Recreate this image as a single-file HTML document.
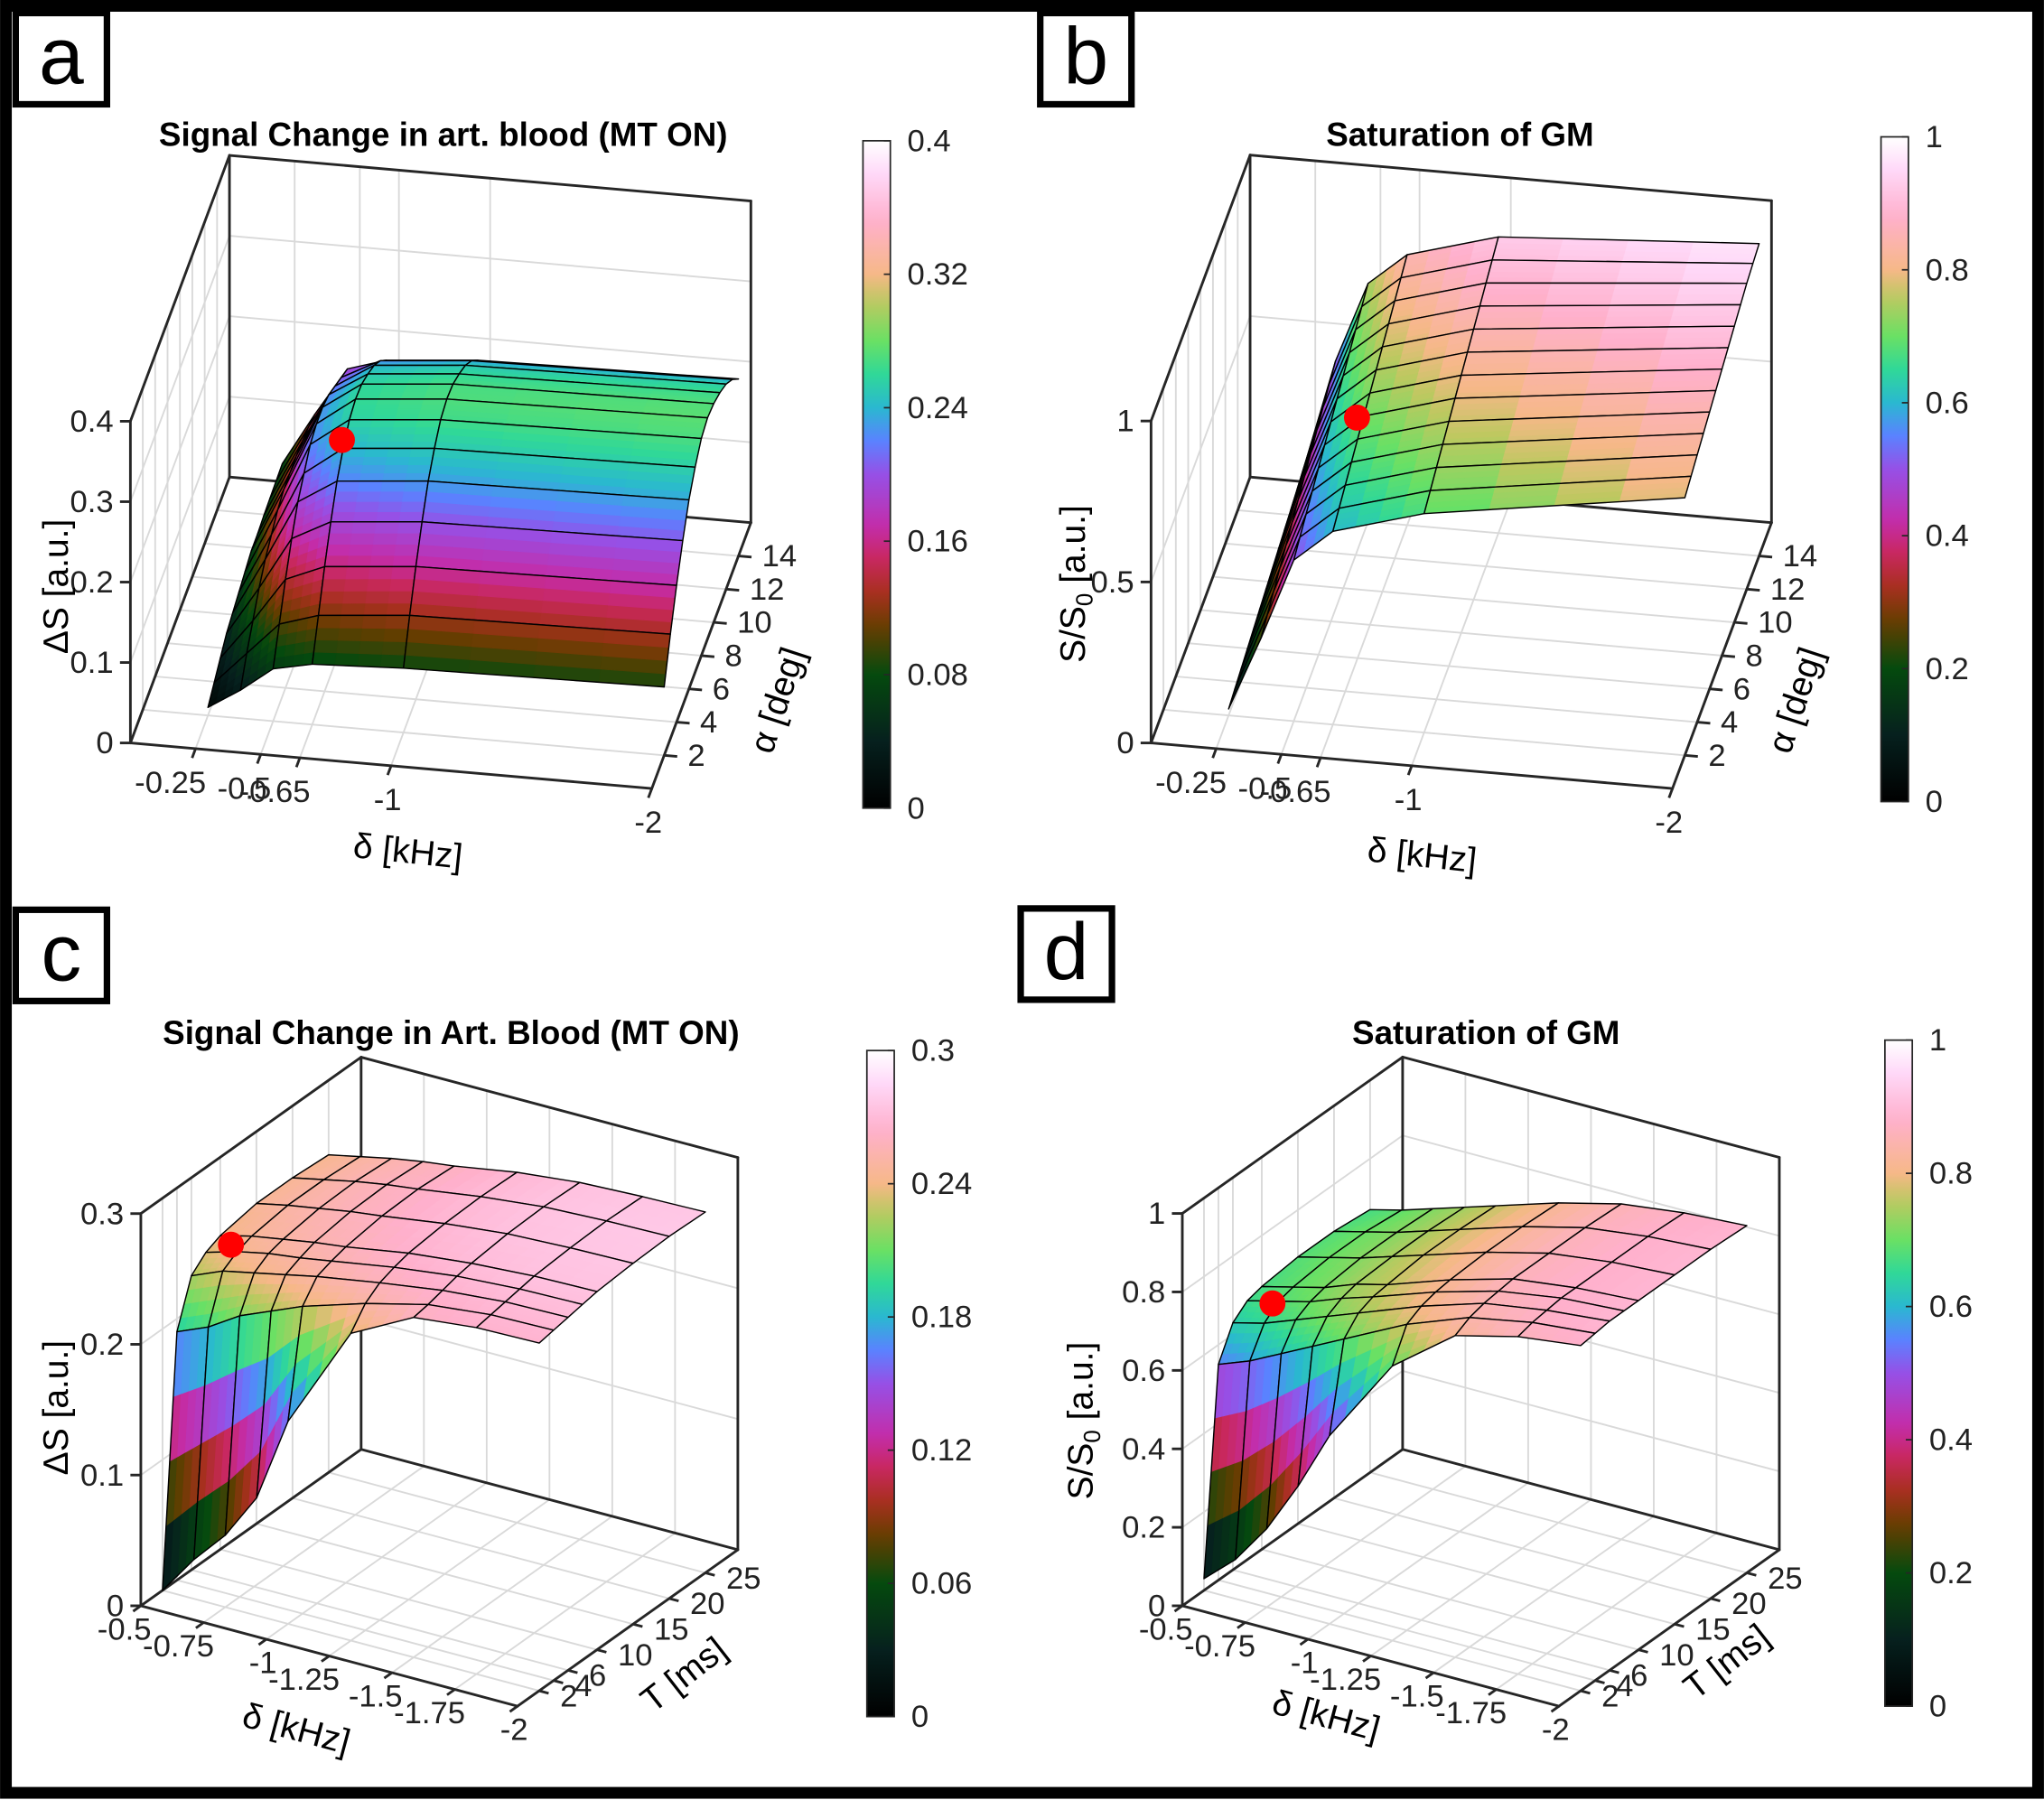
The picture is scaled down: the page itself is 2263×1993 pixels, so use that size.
<!DOCTYPE html>
<html><head><meta charset="utf-8"><title>MT surfaces</title>
<style>
html,body{margin:0;padding:0;background:#fff;}
svg{display:block;font-family:"Liberation Sans",Arial,sans-serif;}
.tk{font-size:24px;fill:#222;}
.ttl{font-size:25.5px;font-weight:bold;fill:#000;}
.axl{font-size:27px;fill:#000;}
.let{font-size:62px;fill:#000;}
</style></head>
<body>
<svg id="fig" width="2263" height="1993" viewBox="0 0 1568 1381" xmlns="http://www.w3.org/2000/svg">
<defs id="defs"></defs>
<rect x="0" y="0" width="1568" height="1381" fill="#fff"/>
<g id="panels"></g>

<g><rect x="12" y="10" width="70" height="70" fill="#fff" stroke="#000" stroke-width="5"/><text class="let" x="47" y="64" text-anchor="middle">a</text></g>
<g><rect x="798" y="10" width="70" height="70" fill="#fff" stroke="#000" stroke-width="5"/><text class="let" x="833" y="64" text-anchor="middle">b</text></g>
<g><rect x="12" y="698" width="70" height="70" fill="#fff" stroke="#000" stroke-width="5"/><text class="let" x="47" y="752" text-anchor="middle">c</text></g>
<g><rect x="783" y="697" width="70" height="70" fill="#fff" stroke="#000" stroke-width="5"/><text class="let" x="818" y="751" text-anchor="middle">d</text></g>

<text class="ttl" x="340" y="112" text-anchor="middle">Signal Change in art. blood (MT ON)</text>
<text class="ttl" x="1120" y="112" text-anchor="middle">Saturation of GM</text>
<text class="ttl" x="346" y="801" text-anchor="middle">Signal Change in Art. Blood (MT ON)</text>
<text class="ttl" x="1140" y="801" text-anchor="middle">Saturation of GM</text>

<text class="axl" transform="translate(52,450) rotate(-90)" text-anchor="middle">ΔS [a.u.]</text>
<text class="axl" transform="translate(312,662) rotate(6)" text-anchor="middle">δ [kHz]</text>
<text class="axl" transform="translate(605,540) rotate(-72)" text-anchor="middle">α [deg]</text>

<text class="axl" transform="translate(832,448) rotate(-90)" text-anchor="middle">S/S<tspan font-size="18" dy="6">0</tspan><tspan dy="-6"> [a.u.]</tspan></text>
<text class="axl" transform="translate(1090,665) rotate(6)" text-anchor="middle">δ [kHz]</text>
<text class="axl" transform="translate(1386,540) rotate(-72)" text-anchor="middle">α [deg]</text>

<text class="axl" transform="translate(52,1080) rotate(-90)" text-anchor="middle">ΔS [a.u.]</text>
<text class="axl" transform="translate(225,1335) rotate(15)" text-anchor="middle">δ [kHz]</text>
<text class="axl" transform="translate(530,1292) rotate(-38)" text-anchor="middle">T [ms]</text>

<text class="axl" transform="translate(838,1090) rotate(-90)" text-anchor="middle">S/S<tspan font-size="18" dy="6">0</tspan><tspan dy="-6"> [a.u.]</tspan></text>
<text class="axl" transform="translate(1015,1325) rotate(15)" text-anchor="middle">δ [kHz]</text>
<text class="axl" transform="translate(1330,1282) rotate(-38)" text-anchor="middle">T [ms]</text>

<rect x="4.5" y="4.5" width="1559" height="1371" fill="none" stroke="#000" stroke-width="9"/>
</svg>
<script>
// ---------- Panel a data ----------
const aDelta = [-0.25, -0.375, -0.5, -0.65, -1, -2];
const aAlpha = [2, 3, 4, 5, 6, 7, 8, 9, 10, 11, 12, 13, 14];
const aZ = [
  [0.010, 0.035, 0.065, 0.075, 0.080, 0.085],
  [0.020, 0.060, 0.100, 0.115, 0.125, 0.130],
  [0.030, 0.080, 0.135, 0.155, 0.165, 0.170],
  [0.040, 0.100, 0.165, 0.190, 0.200, 0.205],
  [0.045, 0.115, 0.190, 0.220, 0.230, 0.235],
  [0.050, 0.125, 0.205, 0.240, 0.250, 0.255],
  [0.055, 0.135, 0.220, 0.255, 0.265, 0.270],
  [0.060, 0.140, 0.225, 0.260, 0.270, 0.275],
  [0.060, 0.140, 0.225, 0.258, 0.268, 0.272],
  [0.062, 0.140, 0.220, 0.250, 0.260, 0.265],
  [0.063, 0.138, 0.210, 0.240, 0.250, 0.255],
  [0.064, 0.135, 0.200, 0.225, 0.235, 0.240],
  [0.065, 0.130, 0.190, 0.205, 0.215, 0.220]
];
const aDot = [-0.55, 11, 0.165];
const aDeltaTicks = [-0.25, -0.5, -0.65, -1, -2];
const aDeltaTickLabels = ["-0.25", "-0.5", "-0.65", "-1", "-2"];
const aAlphaTicks = [2, 4, 6, 8, 10, 12, 14];
const aZTicks = [0, 0.1, 0.2, 0.3, 0.4];
const aZTickLabels = ["0", "0.1", "0.2", "0.3", "0.4"];
const aCbTicks = [0, 0.08, 0.16, 0.24, 0.32, 0.4];
const aCbTickLabels = ["0", "0.08", "0.16", "0.24", "0.32", "0.4"];

// ---------- Panel b data ----------
const bDelta = [-0.25, -0.375, -0.5, -0.65, -1, -2];
const bAlpha = [2, 3, 4, 5, 6, 7, 8, 9, 10, 11, 12, 13, 14];
const bZ = [
  [0.02, 0.25, 0.50, 0.60, 0.68, 0.800],
  [0.03, 0.27, 0.52, 0.62, 0.70, 0.815],
  [0.04, 0.29, 0.54, 0.64, 0.72, 0.830],
  [0.05, 0.31, 0.56, 0.66, 0.74, 0.845],
  [0.06, 0.33, 0.58, 0.68, 0.76, 0.860],
  [0.07, 0.35, 0.60, 0.70, 0.78, 0.875],
  [0.08, 0.37, 0.62, 0.72, 0.80, 0.890],
  [0.09, 0.39, 0.64, 0.74, 0.82, 0.905],
  [0.10, 0.41, 0.66, 0.76, 0.84, 0.920],
  [0.11, 0.43, 0.68, 0.78, 0.86, 0.935],
  [0.12, 0.45, 0.70, 0.80, 0.88, 0.950],
  [0.13, 0.47, 0.72, 0.82, 0.90, 0.960],
  [0.14, 0.49, 0.74, 0.84, 0.92, 0.970]
];
const bDot = [-0.6, 8, 0.64];
const bDeltaTicks = [-0.25, -0.5, -0.65, -1, -2];
const bDeltaTickLabels = ["-0.25", "-0.5", "-0.65", "-1", "-2"];
const bAlphaTicks = [2, 4, 6, 8, 10, 12, 14];
const bZTicks = [0, 0.5, 1];
const bZTickLabels = ["0", "0.5", "1"];
const bCbTicks = [0, 0.2, 0.4, 0.6, 0.8, 1];
const bCbTickLabels = ["0", "0.2", "0.4", "0.6", "0.8", "1"];

// ---------- Panel c data ----------
const cDelta = [-0.5, -0.625, -0.75, -0.875, -1, -1.25, -1.5, -1.75, -2];
const cT = [2, 4, 6, 8, 10, 15, 20, 25];
const cZ = [
  [0.000, 0.030, 0.055, 0.090, 0.155, 0.235, 0.260, 0.265, 0.266],
  [0.190, 0.200, 0.215, 0.225, 0.235, 0.250, 0.262, 0.267, 0.268],
  [0.225, 0.235, 0.240, 0.245, 0.250, 0.258, 0.265, 0.269, 0.270],
  [0.235, 0.242, 0.247, 0.250, 0.254, 0.262, 0.268, 0.271, 0.272],
  [0.240, 0.246, 0.250, 0.254, 0.257, 0.265, 0.270, 0.273, 0.274],
  [0.245, 0.250, 0.254, 0.258, 0.261, 0.268, 0.273, 0.275, 0.276],
  [0.245, 0.250, 0.255, 0.259, 0.262, 0.269, 0.274, 0.276, 0.277],
  [0.243, 0.248, 0.253, 0.257, 0.260, 0.268, 0.273, 0.275, 0.276]
];
const cDot = [-0.6, 8, 0.246];
const cDeltaTicks = [-0.5, -0.75, -1, -1.25, -1.5, -1.75, -2];
const cDeltaTickLabels = ["-0.5", "-0.75", "-1", "-1.25", "-1.5", "-1.75", "-2"];
const cTTicks = [2, 4, 6, 10, 15, 20, 25];
const cZTicks = [0, 0.1, 0.2, 0.3];
const cZTickLabels = ["0", "0.1", "0.2", "0.3"];
const cCbTicks = [0, 0.06, 0.12, 0.18, 0.24, 0.3];
const cCbTickLabels = ["0", "0.06", "0.12", "0.18", "0.24", "0.3"];

// ---------- Panel d data ----------
const dDelta = [-0.5, -0.625, -0.75, -0.875, -1, -1.25, -1.5, -1.75, -2];
const dT = [2, 4, 6, 8, 10, 15, 20, 25];
const dZ = [
  [0.03, 0.10, 0.20, 0.33, 0.48, 0.70, 0.82, 0.86, 0.880],
  [0.55, 0.58, 0.62, 0.66, 0.70, 0.78, 0.84, 0.87, 0.885],
  [0.63, 0.65, 0.68, 0.71, 0.74, 0.80, 0.85, 0.875, 0.890],
  [0.66, 0.68, 0.70, 0.73, 0.755, 0.81, 0.855, 0.88, 0.890],
  [0.67, 0.69, 0.71, 0.74, 0.76, 0.815, 0.86, 0.88, 0.890],
  [0.68, 0.70, 0.72, 0.745, 0.77, 0.82, 0.86, 0.88, 0.890],
  [0.68, 0.70, 0.72, 0.745, 0.77, 0.82, 0.86, 0.88, 0.890],
  [0.67, 0.69, 0.715, 0.74, 0.765, 0.815, 0.855, 0.875, 0.885]
];
const dDot = [-0.6, 8, 0.67];
const dDeltaTicks = [-0.5, -0.75, -1, -1.25, -1.5, -1.75, -2];
const dDeltaTickLabels = ["-0.5", "-0.75", "-1", "-1.25", "-1.5", "-1.75", "-2"];
const dTTicks = [2, 4, 6, 10, 15, 20, 25];
const dZTicks = [0, 0.2, 0.4, 0.6, 0.8, 1];
const dZTickLabels = ["0", "0.2", "0.4", "0.6", "0.8", "1"];
const dCbTicks = [0, 0.2, 0.4, 0.6, 0.8, 1];
const dCbTickLabels = ["0", "0.2", "0.4", "0.6", "0.8", "1"];

// ---------- colormap ----------
const CM = [
  [0.00, [0, 0, 0]], [0.10, [6, 32, 30]], [0.20, [5, 74, 14]], [0.27, [100, 62, 0]],
  [0.32, [165, 48, 28]], [0.37, [200, 40, 90]], [0.42, [196, 44, 168]], [0.50, [150, 80, 230]],
  [0.55, [90, 130, 255]], [0.60, [42, 184, 208]], [0.65, [48, 216, 152]], [0.70, [106, 224, 100]],
  [0.76, [190, 200, 96]], [0.80, [246, 184, 136]], [0.88, [255, 176, 204]], [0.95, [255, 216, 248]],
  [1.00, [255, 255, 255]]
];
function cmap(t) {
  t = Math.max(0, Math.min(1, t));
  for (let i = 1; i < CM.length; i++) {
    if (t <= CM[i][0]) {
      const a = CM[i - 1], b = CM[i];
      const f = (t - a[0]) / (b[0] - a[0]);
      const c = a[1].map((v, k) => Math.round(v + (b[1][k] - v) * f));
      return "rgb(" + c.join(",") + ")";
    }
  }
  return "rgb(255,255,255)";
}

const NS = "http://www.w3.org/2000/svg";
function mk(tag, attrs, parent) {
  const e = document.createElementNS(NS, tag);
  for (const k in attrs) e.setAttribute(k, attrs[k]);
  parent.appendChild(e);
  return e;
}
function pts(arr) { return arr.map(p => p[0].toFixed(2) + "," + p[1].toFixed(2)).join(" "); }

function buildPanel(cfg) {
  const root = document.getElementById("panels");
  const g = mk("g", {}, root);
  
  

  const uOf = cfg.uOf, vOf = cfg.vOf;
  function P(u, v, z) {
    return [cfg.O[0] + u * cfg.U[0] + v * cfg.V[0], cfg.O[1] + u * cfg.U[1] + v * cfg.V[1] - z * cfg.Zs];
  }
  function D(d, p, z) { return P(uOf(d), vOf(p), z); }

  const gg = mk("g", {stroke: "#d9d9d9", "stroke-width": 1.3, fill: "none"}, g);
  
  
  const zt = cfg.zTop;
  cfg.dTicks.forEach(d => {
    const u = uOf(d);
    let l = mk("line", lineA(P(u, 0, 0), P(u, 1, 0)), gg);
    
    
    l = mk("line", lineA(P(u, 1, 0), P(u, 1, zt)), gg);
    
    
  });
  cfg.pTicks.forEach(p => {
    const v = vOf(p);
    let l = mk("line", lineA(P(0, v, 0), P(1, v, 0)), gg);
    
    
    l = mk("line", lineA(P(0, v, 0), P(0, v, zt)), gg);
    
    
  });
  cfg.zTicks.forEach(z => {
    let l = mk("line", lineA(P(0, 0, z), P(0, 1, z)), gg);
    
    
    l = mk("line", lineA(P(0, 1, z), P(1, 1, z)), gg);
    
    
  });

  const bg = mk("g", {stroke: "#262626", "stroke-width": 2, fill: "none", "stroke-linecap": "round"}, g);
  
  
  const edges = [
    [P(0,0,0), P(1,0,0)], [P(1,0,0), P(1,1,0)], [P(1,1,0), P(0,1,0)], [P(0,1,0), P(0,0,0)],
    [P(0,0,0), P(0,0,zt)], [P(0,1,0), P(0,1,zt)], [P(1,1,0), P(1,1,zt)],
    [P(0,0,zt), P(0,1,zt)], [P(0,1,zt), P(1,1,zt)]
  ];
  edges.forEach(e => {
    const l = mk("line", lineA(e[0], e[1]), bg);
    
    
  });

  const sg = mk("g", {}, g);
  
  
  const xs = cfg.xs, ys = cfg.ys, Z = cfg.Z;
  const cells = [];
  for (let j = 0; j < ys.length - 1; j++) {
    for (let i = 0; i < xs.length - 1; i++) {
      const uc = (uOf(xs[i]) + uOf(xs[i + 1])) / 2, vc = (vOf(ys[j]) + vOf(ys[j + 1])) / 2;
      cells.push({i: i, j: j, key: P(uc, vc, 0)[1]});
    }
  }
  cells.sort((a, b) => a.key - b.key);
  const N = 4;
  cells.forEach(c => {
    const i = c.i, j = c.j;
    const u0 = uOf(xs[i]), u1 = uOf(xs[i + 1]), v0 = vOf(ys[j]), v1 = vOf(ys[j + 1]);
    const z00 = Z[j][i], z10 = Z[j][i + 1], z01 = Z[j + 1][i], z11 = Z[j + 1][i + 1];
    function bil(s, t) {
      return [u0 + (u1 - u0) * s, v0 + (v1 - v0) * t,
        z00 * (1 - s) * (1 - t) + z10 * s * (1 - t) + z01 * (1 - s) * t + z11 * s * t];
    }
    function Q(s, t) { const b = bil(s, t); return P(b[0], b[1], b[2]); }
    const cg = mk("g", {}, sg);
    
    
    for (let a = 0; a < N; a++) {
      for (let b = 0; b < N; b++) {
        const s0 = a / N, s1 = (a + 1) / N, t0 = b / N, t1 = (b + 1) / N;
        const zc = bil((s0 + s1) / 2, (t0 + t1) / 2)[2];
        const col = cmap(zc / cfg.cbMax);
        const pg = mk("polygon", {points: pts([Q(s0, t0), Q(s1, t0), Q(s1, t1), Q(s0, t1)]), fill: col, stroke: col, "stroke-width": 0.6}, cg);
        
        
      }
    }
    const outline = mk("polygon", {points: pts([Q(0, 0), Q(1, 0), Q(1, 1), Q(0, 1)]), fill: "none", stroke: "#000", "stroke-width": 1, "stroke-linejoin": "round"}, cg);
    
    
  });

  const dp = D(cfg.dot[0], cfg.dot[1], cfg.dot[2]);
  const dot = mk("circle", {cx: dp[0], cy: dp[1], r: 10, fill: "#ff0000"}, g);
  
  

  const tg = mk("g", {}, g);
  
  
  cfg.zTicks.forEach((z, k) => {
    const p = P(0, 0, z);
    const l = mk("line", lineA(p, [p[0] - 8, p[1]]), tg);
    l.setAttribute("stroke", "#262626"); l.setAttribute("stroke-width", 2);
    
    
    const t = mk("text", {x: p[0] - 13, y: p[1] + 8, "text-anchor": "end", class: "tk"}, tg);
    t.textContent = cfg.zLabels[k];
    
    
  });
  cfg.dTicks.forEach((d, k) => {
    const p = P(uOf(d), 0, 0);
    const l = mk("line", lineA(p, [p[0] - cfg.V[0] * 0.035, p[1] - cfg.V[1] * 0.035]), tg);
    l.setAttribute("stroke", "#262626"); l.setAttribute("stroke-width", 2);
    
    
    const t = mk("text", {x: p[0] + cfg.dLab[0], y: p[1] + cfg.dLab[1], "text-anchor": "end", class: "tk"}, tg);
    t.textContent = cfg.dLabels[k];
    
    
  });
  cfg.pTicks.forEach((pv, k) => {
    const p = P(1, vOf(pv), 0);
    const l = mk("line", lineA(p, [p[0] + cfg.U[0] * 0.025, p[1] + cfg.U[1] * 0.025]), tg);
    l.setAttribute("stroke", "#262626"); l.setAttribute("stroke-width", 2);
    
    
    const t = mk("text", {x: p[0] + cfg.pLab[0], y: p[1] + cfg.pLab[1], "text-anchor": "start", class: "tk"}, tg);
    t.textContent = String(pv);
    
    
  });

  const gid = "grad" + cfg.id;
  const defs = document.getElementById("defs");
  const lg = mk("linearGradient", {id: gid, x1: 0, y1: 1, x2: 0, y2: 0}, defs);
  for (let s = 0; s <= 40; s++) {
    mk("stop", {offset: (s / 40).toFixed(3), "stop-color": cmap(s / 40)}, lg);
  }
  const cb = cfg.cb;
  const cbg = mk("g", {}, g);
  
  
  const r = mk("rect", {x: cb.x, y: cb.top, width: cb.w, height: cb.bot - cb.top, fill: "url(#" + gid + ")", stroke: "#262626", "stroke-width": 1.2}, cbg);
  
  
  cfg.cbTicks.forEach((v, k) => {
    const y = cb.bot - (v / cfg.cbMax) * (cb.bot - cb.top);
    const l = mk("line", {x1: cb.x + cb.w - 5, y1: y, x2: cb.x + cb.w, y2: y, stroke: "#262626", "stroke-width": 1.2}, cbg);
    
    
    const t = mk("text", {x: cb.x + cb.w + 13, y: y + 8, class: "tk"}, cbg);
    t.textContent = cfg.cbLabels[k];
    
    
  });
}
function lineA(a, b) { return {x1: a[0], y1: a[1], x2: b[0], y2: b[1]}; }

const uA = d => -d / 2;
const vA = a => a / 16;
const uC = d => (-d - 0.5) / 1.5;
const vC = t => (t + 1) / 30.5;

buildPanel({id: "a", O: [100, 570], U: [400, 35], V: [76, -204], Zs: 617, zTop: 0.4, uOf: uA, vOf: vA,
  xs: aDelta, ys: aAlpha, Z: aZ, dot: aDot, dTicks: aDeltaTicks, dLabels: aDeltaTickLabels, pTicks: aAlphaTicks,
  zTicks: aZTicks, zLabels: aZTickLabels, cbMax: 0.4, cbTicks: aCbTicks, cbLabels: aCbTickLabels,
  dLab: [8, 34], pLab: [18, 8], cb: {x: 662, w: 21, top: 108, bot: 620}});
buildPanel({id: "b", O: [883, 570], U: [400, 35], V: [76, -204], Zs: 247, zTop: 1, uOf: uA, vOf: vA,
  xs: bDelta, ys: bAlpha, Z: bZ, dot: bDot, dTicks: bDeltaTicks, dLabels: bDeltaTickLabels, pTicks: bAlphaTicks,
  zTicks: bZTicks, zLabels: bZTickLabels, cbMax: 1, cbTicks: bCbTicks, cbLabels: bCbTickLabels,
  dLab: [8, 34], pLab: [18, 8], cb: {x: 1443, w: 21, top: 105, bot: 615}});
buildPanel({id: "c", O: [108, 1232], U: [289, 77], V: [169, -120], Zs: 1003, zTop: 0.3, uOf: uC, vOf: vC,
  xs: cDelta, ys: cT, Z: cZ, dot: cDot, dTicks: cDeltaTicks, dLabels: cDeltaTickLabels, pTicks: cTTicks,
  zTicks: cZTicks, zLabels: cZTickLabels, cbMax: 0.3, cbTicks: cCbTicks, cbLabels: cCbTickLabels,
  dLab: [8, 26], pLab: [16, 12], cb: {x: 665, w: 21, top: 806, bot: 1317}});
buildPanel({id: "d", O: [907, 1232], U: [289, 77], V: [169, -120], Zs: 301, zTop: 1, uOf: uC, vOf: vC,
  xs: dDelta, ys: dT, Z: dZ, dot: dDot, dTicks: dDeltaTicks, dLabels: dDeltaTickLabels, pTicks: dTTicks,
  zTicks: dZTicks, zLabels: dZTickLabels, cbMax: 1, cbTicks: dCbTicks, cbLabels: dCbTickLabels,
  dLab: [8, 26], pLab: [16, 12], cb: {x: 1446, w: 21, top: 798, bot: 1309}});
</script>
</body></html>
